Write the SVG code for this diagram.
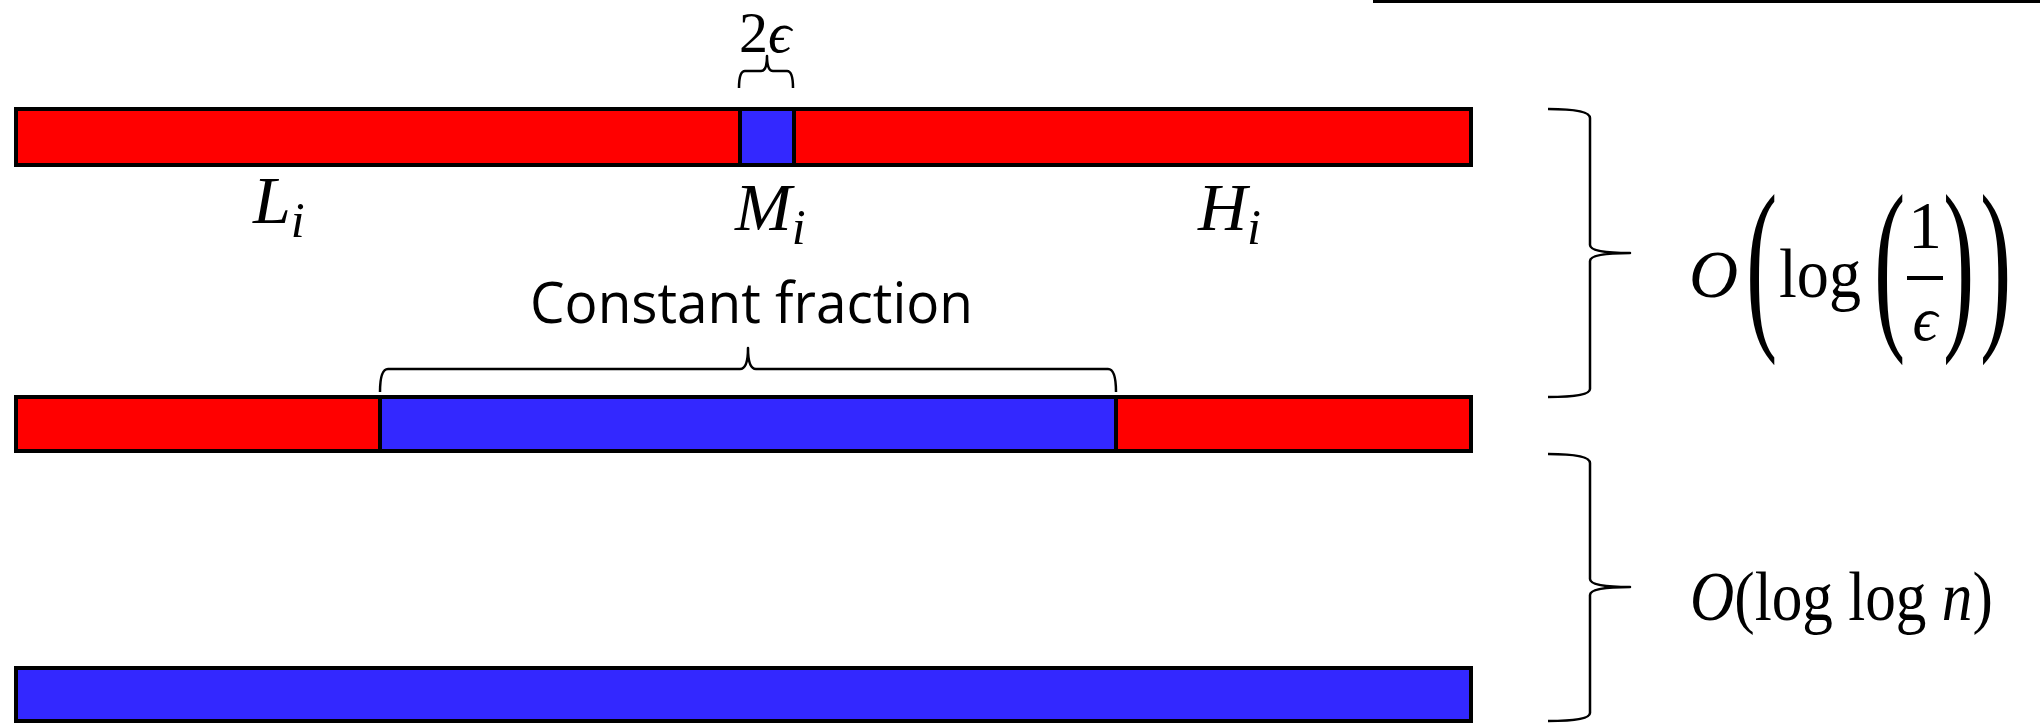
<svg xmlns="http://www.w3.org/2000/svg" width="2040" height="723" viewBox="0 0 2040 723">
<style>
.bar{stroke:#000;stroke-width:4}
.red{fill:#FF0000}
.blue{fill:#3328FF}
.brace{fill:none;stroke:#000;stroke-width:2.5;stroke-linejoin:round}
.m{font-family:"Liberation Serif","DejaVu Serif",serif;fill:#000}
.it{font-style:italic}
.lab{font-family:"Open Sans","Noto Sans",sans-serif;fill:#000}
</style>
<rect x="0" y="0" width="2040" height="723" fill="#fff"/>
<line x1="1373" y1="1.5" x2="2040" y2="1.5" stroke="#000" stroke-width="3"/>

<g id="bar1">
<rect class="bar red" x="16" y="109" width="1455" height="56"/>
<rect class="bar blue" x="740" y="109" width="54" height="56"/>
</g>
<g id="bar2">
<rect class="bar red" x="16" y="397" width="1455" height="54"/>
<rect class="bar blue" x="380" y="397" width="736" height="54"/>
</g>
<g id="bar3">
<rect class="bar blue" x="16" y="668" width="1455" height="53"/>
</g>

<g id="labels">
<text class="m" x="739" y="52" font-size="58">2<tspan class="it">ϵ</tspan></text>
<text class="m it" x="253" y="223" font-size="68">L<tspan font-size="50" dy="14">i</tspan></text>
<text class="m it" x="735" y="230" font-size="68">M<tspan font-size="50" dy="14">i</tspan></text>
<text class="m it" x="1198" y="230" font-size="68">H<tspan font-size="50" dy="14">i</tspan></text>
<text class="lab" x="530" y="323" font-size="57" textLength="443" lengthAdjust="spacingAndGlyphs">Constant fraction</text>
</g>

<g id="connectors">
<path class="brace" d="M739 88 Q739 71 745 71 L761 71 Q767 71 767 56 Q767 71 773 71 L787 71 Q793 71 793 88"/>
<path class="brace" d="M380 392 Q380 369 388 369 L740 369 Q748 369 748 348 Q748 369 756 369 L1108 369 Q1116 369 1116 392"/>
<path class="brace" d="M1548 109 Q1590 109 1590 118 L1590 245 Q1590 253 1630 253 Q1590 253 1590 261 L1590 389 Q1590 397 1548 397"/>
<path class="brace" d="M1548 454 Q1590 454 1590 463 L1590 579 Q1590 587 1630 587 Q1590 587 1590 595 L1590 713 Q1590 721 1548 721"/>
</g>

<g id="formula1">
<text class="m it" x="1689" y="297" font-size="68">O</text>
<text class="m" font-size="188" transform="translate(1746 325) scale(0.5 1)">(</text>
<text class="m" x="1779" y="297" font-size="70" textLength="82" lengthAdjust="spacingAndGlyphs">log</text>
<text class="m" font-size="188" transform="translate(1874 325) scale(0.5 1)">(</text>
<text class="m" x="1925" y="248" font-size="68" text-anchor="middle">1</text>
<rect x="1907" y="276" width="36" height="4" fill="#000"/>
<text class="m it" x="1925" y="340" font-size="62" text-anchor="middle">ϵ</text>
<text class="m" font-size="188" transform="translate(1943 325) scale(0.5 1)">)</text>
<text class="m" font-size="188" transform="translate(1980 325) scale(0.5 1)">)</text>
</g>

<g id="formula2">
<text class="m" font-size="70" transform="translate(1690 620) scale(0.875 1)"><tspan class="it">O</tspan>(log log <tspan class="it">n</tspan>)</text>
</g>
</svg>
